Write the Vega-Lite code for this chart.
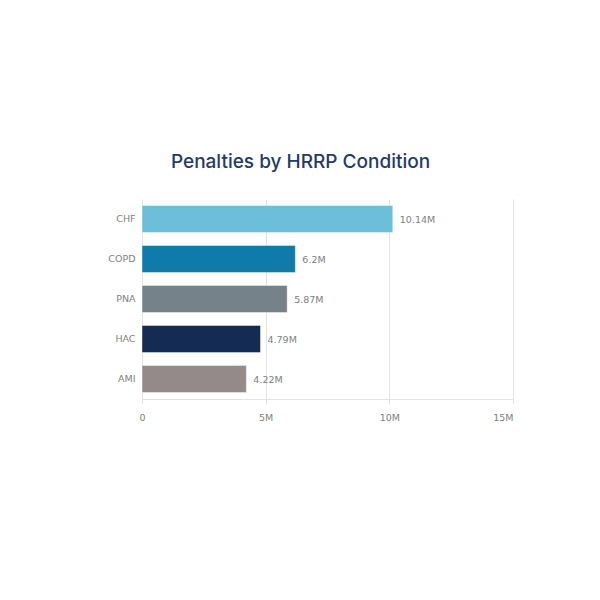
{
  "$schema": "https://vega.github.io/schema/vega-lite/v6.json",
  "autosize": {"type": "none"},
  "width": 371,
  "height": 200,
  "padding": {"left": 142, "top": 199, "right": 87, "bottom": 201},
  "background": "#ffffff",
  "title": {
    "text": "Penalties by HRRP Condition",
    "font": "Inter",
    "fontSize": 19,
    "fontWeight": 500,
    "color": "#243A6B",
    "anchor": "middle",
    "dx": -27,
    "offset": 27
  },
  "data": {
    "values": [
      {"condition": "CHF", "penalty": 10140000},
      {"condition": "COPD", "penalty": 6200000},
      {"condition": "PNA", "penalty": 5870000},
      {"condition": "HAC", "penalty": 4790000},
      {"condition": "AMI", "penalty": 4220000}
    ]
  },
  "encoding": {
    "y": {
      "field": "condition",
      "type": "nominal",
      "sort": "-x",
      "title": null,
      "scale": {"paddingInner": 0.32, "paddingOuter": 0.16},
      "axis": {
        "domain": false,
        "ticks": false,
        "labelPadding": 7,
        "labelFont": "DejaVu Sans",
        "labelFontSize": 9.5,
        "labelColor": "#808080"
      }
    },
    "x": {
      "field": "penalty",
      "type": "quantitative",
      "title": null,
      "scale": {"domain": [0, 15000000], "nice": false},
      "axis": {
        "values": [0, 5000000, 10000000, 15000000],
        "labelExpr": "datum.value === 0 ? '0' : format(datum.value, '~s')",
        "labelFlush": false,
        "labelAlign": {"expr": "datum.value === 15000000 ? 'right' : 'center'"},
        "grid": true,
        "gridColor": "#e3e3e3",
        "domainColor": "#e3e3e3",
        "tickColor": "#e3e3e3",
        "tickSize": 5,
        "labelPadding": 8,
        "labelFont": "DejaVu Sans",
        "labelFontSize": 9.5,
        "labelColor": "#808080"
      }
    }
  },
  "layer": [
    {
      "mark": {"type": "bar", "stroke": "#ffffff", "strokeWidth": 1, "strokeOpacity": 0.45},
      "encoding": {
        "color": {
          "field": "condition",
          "type": "nominal",
          "legend": null,
          "scale": {
            "domain": ["CHF", "COPD", "PNA", "HAC", "AMI"],
            "range": ["#6BBFD8", "#0E7BAA", "#76828A", "#142B54", "#958A8A"]
          }
        }
      }
    },
    {
      "mark": {
        "type": "text",
        "align": "left",
        "baseline": "middle",
        "dx": 7,
        "dy": 1,
        "font": "DejaVu Sans",
        "fontSize": 9.5,
        "color": "#808080"
      },
      "encoding": {
        "text": {"field": "penalty", "type": "quantitative", "format": ".4~s"}
      }
    }
  ],
  "config": {
    "view": {"stroke": null}
  }
}
